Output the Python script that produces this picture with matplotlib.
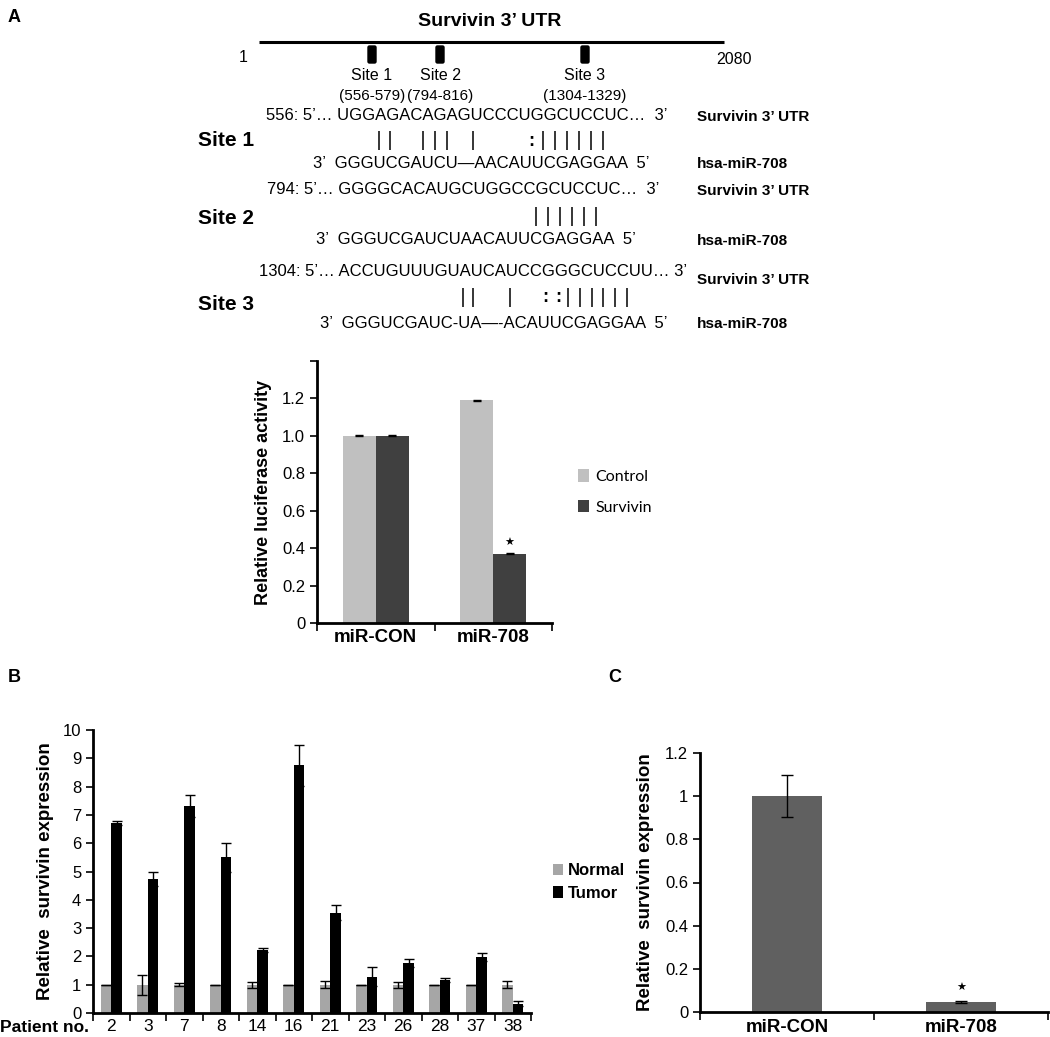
import numpy as np
import matplotlib.pyplot as plt
from matplotlib.patches import FancyBboxPatch

plt.rcParams['font.family'] = ['Liberation Sans', 'DejaVu Sans']

# ---- data ----
lucif_groups = ["miR-CON", "miR-708"]
lucif_control = [1.0, 1.19]
lucif_survivin = [1.0, 0.37]
lucif_control_err = [0.003, 0.003]
lucif_survivin_err = [0.003, 0.003]

patients = ["2", "3", "7", "8", "14", "16", "21", "23", "26", "28", "37", "38"]
normal = [1.0, 1.0, 1.0, 1.0, 1.0, 1.0, 1.0, 1.0, 1.0, 1.0, 1.0, 1.0]
normal_err = [0.0, 0.35, 0.05, 0.0, 0.1, 0.0, 0.12, 0.0, 0.1, 0.0, 0.0, 0.13]
tumor = [6.72, 4.72, 7.32, 5.5, 2.24, 8.75, 3.55, 1.28, 1.77, 1.15, 1.98, 0.33]
tumor_err = [0.07, 0.25, 0.38, 0.5, 0.07, 0.73, 0.28, 0.33, 0.15, 0.07, 0.15, 0.1]

c_groups = ["miR-CON", "miR-708"]
c_values = [1.0, 0.048]
c_err = [0.097, 0.004]

sites = ["Site 1", "Site 2", "Site 3"]
site_ranges = ["(556-579)", "(794-816)", "(1304-1329)"]
utr_seqs = ["556: 5’… UGGAGACAGAGUCCCUGGCUCCUC…  3’",
            "794: 5’… GGGGCACAUGCUGGCCGCUCCUC…  3’",
            "1304: 5’… ACCUGUUUGUAUCAUCCGGGCUCCUU… 3’"]
mir_seqs = ["3’  GGGUCGAUCU—AACAUUCGAGGAA  5’",
            "3’  GGGUCGAUCUAACAUUCGAGGAA  5’",
            "3’  GGGUCGAUC-UA—-ACAUUCGAGGAA  5’"]

W, H = 1050, 1037
fig = plt.figure(figsize=(W / 100, H / 100), dpi=100)

# overlay in pixel coordinates for the schematic part
ov = fig.add_axes([0, 0, 1, 1])
ov.set_xlim(0, W)
ov.set_ylim(H, 0)
ov.axis('off')

ov.text(8, 18, "A", fontsize=13, fontweight='bold', va='center')
ov.text(8, 678, "B", fontsize=13, fontweight='bold', va='center')
ov.text(608, 677, "C", fontsize=13, fontweight='bold', va='center')

# UTR map
ov.text(490, 21, "Survivin 3’ UTR", fontsize=14, fontweight='bold', ha='center', va='center')
ov.plot([259, 724], [42, 42], color='black', lw=2.2, solid_capstyle='butt')
ov.text(243, 57, "1", fontsize=11.5, ha='center', va='center')
ov.text(734, 59, "2080", fontsize=11.5, ha='center', va='center')
site_x = [372, 440, 585]
for sx, name, rng in zip(site_x, sites, site_ranges):
    ov.add_patch(FancyBboxPatch((sx - 3, 47), 6, 15, boxstyle="round,pad=1,rounding_size=1.5",
                                color='black'))
    ov.text(sx, 76, name, fontsize=11.5, ha='center', va='center')
    ov.text(sx, 96, rng, fontsize=11, ha='center', va='center')

# sequence alignments
upper_y = [115, 189, 272]
lower_y = [163, 240, 323]
label_y = [141, 218, 304]
upper_x = [266, 267, 259]
lower_x = [313, 316, 320]
for i in range(3):
    ov.text(upper_x[i], upper_y[i], utr_seqs[i], fontsize=12, va='center')
    ov.text(lower_x[i], lower_y[i], mir_seqs[i], fontsize=12, va='center')
    ov.text(198, label_y[i], sites[i], fontsize=15, fontweight='bold', va='center')
    ov.text(697, upper_y[i] + (8 if i == 2 else 2), "Survivin 3’ UTR", fontsize=11,
            fontweight='bold', va='center')
    ov.text(697, lower_y[i] + 1, "hsa-miR-708", fontsize=11, fontweight='bold', va='center')

pair_bars = [[379, 390, 423, 435, 447, 473, 543, 555, 567, 579, 591, 603],
             [536, 548, 560, 572, 584, 596],
             [463, 473, 510, 568, 580, 592, 603, 615, 627]]
pair_colons = [[531], [], [545, 558]]
bar_top = [131, 207, 288]
for i in range(3):
    ov.vlines(pair_bars[i], bar_top[i], bar_top[i] + 19, color='black', lw=1.1)
    for cx in pair_colons[i]:
        ov.text(cx, bar_top[i] + 10, ":", fontsize=13, fontweight='bold', ha='center', va='center')

# ---- panel A bar chart ----
axA = fig.add_axes([317 / W, 1 - 623 / H, 235 / W, 262 / H])
xa = np.arange(len(lucif_groups))
bw = 0.28
axA.bar(xa - bw / 2, lucif_control, bw, color='#c0c0c0', label='Control')
axA.bar(xa + bw / 2, lucif_survivin, bw, color='#404040', label='Survivin')
axA.errorbar(xa - bw / 2, lucif_control, yerr=lucif_control_err, fmt='none', ecolor='black',
             capsize=3, lw=0.8)
axA.errorbar(xa + bw / 2, lucif_survivin, yerr=lucif_survivin_err, fmt='none', ecolor='black',
             capsize=3, lw=0.8)
axA.text(1 + bw / 2, 0.43, "★", family='DejaVu Sans', fontsize=8, ha='center', va='center')
axA.set_xlim(-0.5, 1.5)
axA.set_ylim(0, 1.4)
axA.set_yticks([0, 0.2, 0.4, 0.6, 0.8, 1.0, 1.2, 1.4])
axA.set_yticklabels(["0", "0.2", "0.4", "0.6", "0.8", "1.0", "1.2", ""], fontsize=12)
axA.set_xticks(xa)
axA.set_xticklabels(lucif_groups, fontsize=13.5, fontweight='bold')
axA.set_xticks([-0.5, 0.5, 1.5], minor=True)
axA.tick_params(axis='x', which='major', length=0, pad=4)
axA.tick_params(axis='x', which='minor', length=6, width=1.2, direction='out')
axA.tick_params(axis='y', length=5, width=1.2, direction='out')
for s in ['top', 'right']:
    axA.spines[s].set_visible(False)
for s in ['left', 'bottom']:
    axA.spines[s].set_linewidth(2)
axA.set_ylabel("Relative luciferase activity", fontsize=13, fontweight='bold', labelpad=7)
axA.legend(loc='center left', bbox_to_anchor=(1.05, 0.5), frameon=False,
           handlelength=0.7, handleheight=0.8, handletextpad=0.4, labelspacing=1.0,
           prop={'family': 'Lato', 'size': 11.5})

# ---- panel B bar chart ----
axB = fig.add_axes([93 / W, 1 - 1013 / H, 438 / W, 283 / H])
xb = np.arange(len(patients))
bwb = 0.29
axB.bar(xb - bwb / 2, normal, bwb, color='#a6a6a6', label='Normal')
axB.bar(xb + bwb / 2, tumor, bwb, color='black', label='Tumor')
axB.errorbar(xb - bwb / 2, normal, yerr=normal_err, fmt='none', ecolor='black', capsize=3.5, lw=1)
axB.errorbar(xb + bwb / 2, tumor, yerr=tumor_err, fmt='none', ecolor='black', capsize=3.5, lw=1)
axB.set_xlim(-0.5, len(patients) - 0.5)
axB.set_ylim(0, 10)
axB.set_yticks(range(0, 11))
axB.set_yticklabels([str(v) for v in range(0, 11)], fontsize=12)
axB.set_xticks(xb)
axB.set_xticklabels(patients, fontsize=12.5)
axB.set_xticks(np.arange(-0.5, len(patients)), minor=True)
axB.tick_params(axis='x', which='major', length=0, pad=4)
axB.tick_params(axis='x', which='minor', length=6, width=1.2, direction='out')
axB.tick_params(axis='y', length=5, width=1.2, direction='out')
for s in ['top', 'right']:
    axB.spines[s].set_visible(False)
for s in ['left', 'bottom']:
    axB.spines[s].set_linewidth(2)
axB.set_ylabel("Relative  survivin expression", fontsize=13.5, fontweight='bold', labelpad=6)
ov.text(0, 1028, "Patient no.", fontsize=12.5, fontweight='bold', va='center')
axB.legend(loc='center left', bbox_to_anchor=(1.015, 0.463), frameon=False,
           handlelength=0.6, handleheight=0.7, handletextpad=0.3, labelspacing=0.45,
           prop={'weight': 'bold', 'size': 12})

# ---- panel C bar chart ----
axC = fig.add_axes([700 / W, 1 - 1012 / H, 348 / W, 259 / H])
xc = np.arange(len(c_groups))
axC.bar(xc, c_values, 0.4, color='#606060')
axC.errorbar(xc, c_values, yerr=c_err, fmt='none', ecolor='black', capsize=4, lw=1)
axC.text(1, 0.11, "★", family='DejaVu Sans', fontsize=8, ha='center', va='center')
axC.set_xlim(-0.5, 1.5)
axC.set_ylim(0, 1.2)
axC.set_yticks([0, 0.2, 0.4, 0.6, 0.8, 1.0, 1.2])
axC.set_yticklabels(["0", "0.2", "0.4", "0.6", "0.8", "1", "1.2"], fontsize=12)
axC.set_xticks(xc)
axC.set_xticklabels(c_groups, fontsize=13.5, fontweight='bold')
axC.set_xticks([-0.5, 0.5, 1.5], minor=True)
axC.tick_params(axis='x', which='major', length=0, pad=5)
axC.tick_params(axis='x', which='minor', length=6, width=1.2, direction='out')
axC.tick_params(axis='y', length=5, width=1.2, direction='out')
for s in ['top', 'right']:
    axC.spines[s].set_visible(False)
for s in ['left', 'bottom']:
    axC.spines[s].set_linewidth(2)
axC.set_ylabel("Relative  survivin expression", fontsize=13.5, fontweight='bold', labelpad=8)

fig.savefig("out.png", dpi=100)
